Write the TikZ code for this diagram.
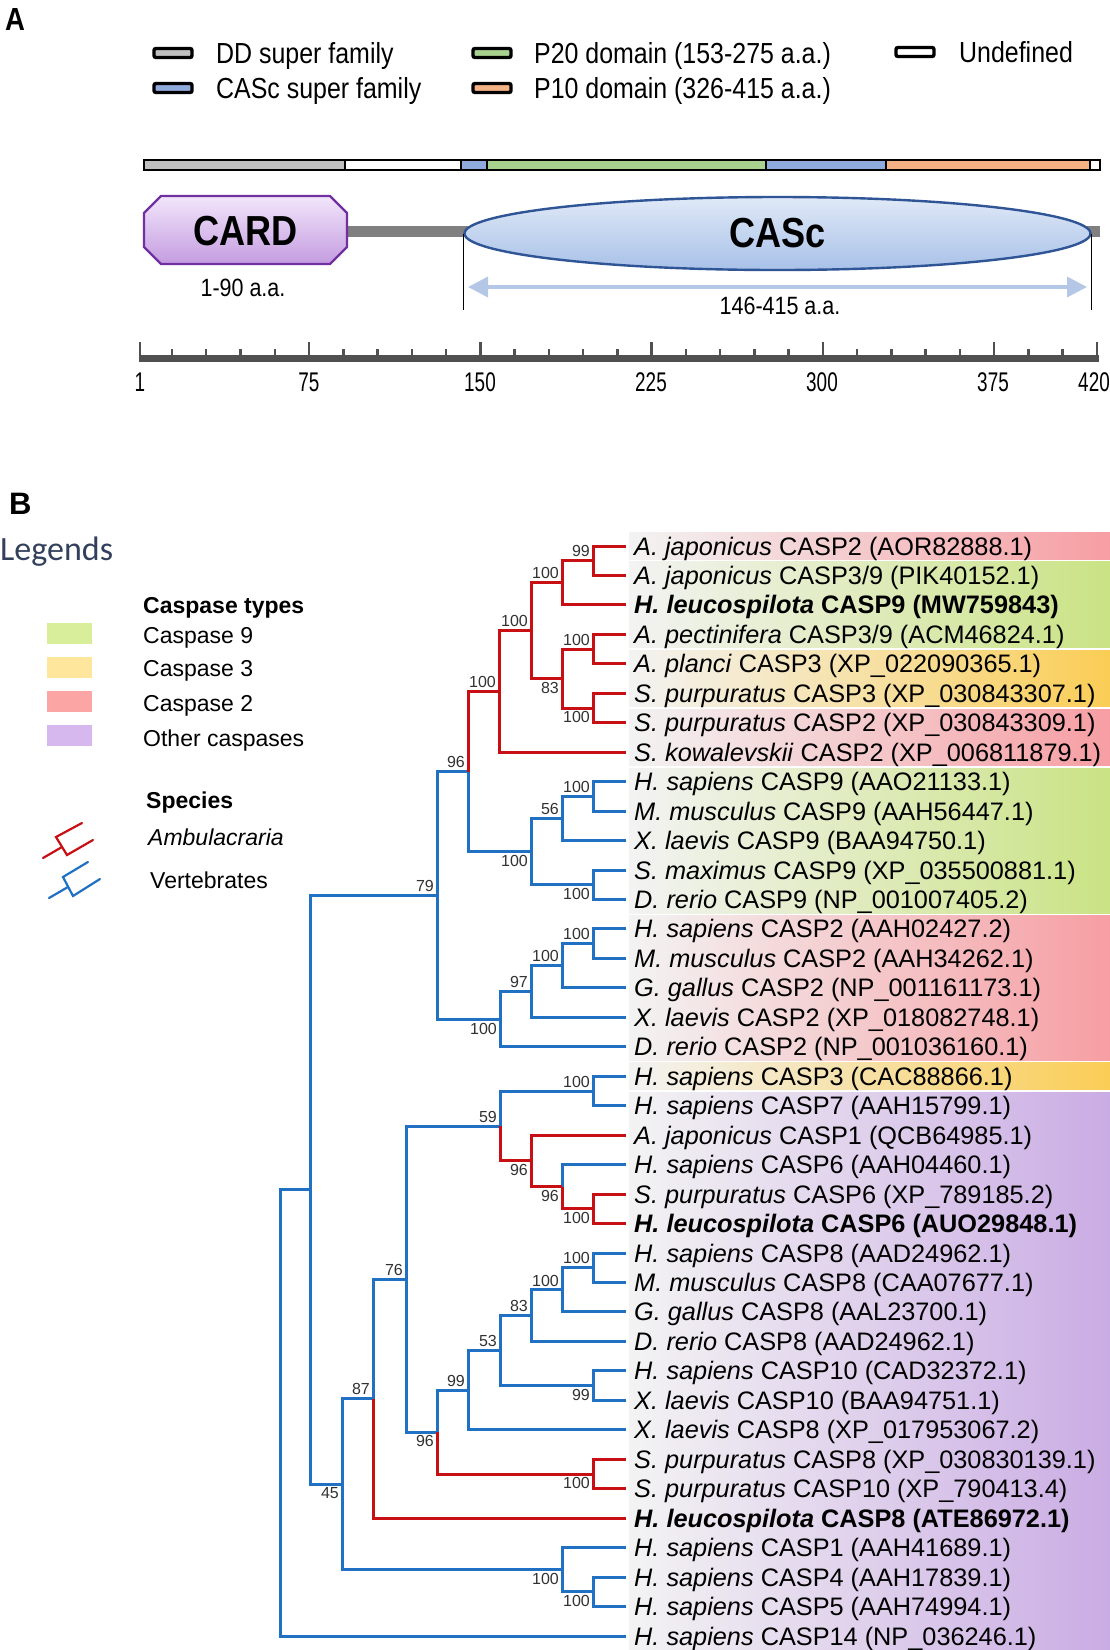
\documentclass[tikz,border=0pt]{standalone}
\usepackage{fontspec}
\setmainfont{Liberation Sans}
\newfontfamily\narrowA[FakeStretch=0.86]{Liberation Sans}
\newfontfamily\narrowT[FakeStretch=0.7]{Liberation Sans}
\newfontfamily\legfont{Carlito}
\usetikzlibrary{arrows.meta,shapes.geometric}
\definecolor{treered}{RGB}{200,15,20}
\definecolor{treeblue}{RGB}{32,112,196}
\definecolor{ddgray}{RGB}{191,191,191}
\definecolor{cascblue}{RGB}{143,170,220}
\definecolor{p20green}{RGB}{169,209,142}
\definecolor{p10orange}{RGB}{244,177,131}
\definecolor{backbone}{RGB}{128,128,128}
\definecolor{cardtop}{RGB}{242,230,251}
\definecolor{cardbot}{RGB}{196,156,224}
\definecolor{cardborder}{RGB}{112,48,160}
\definecolor{casctop}{RGB}{224,233,247}
\definecolor{cascbot}{RGB}{168,193,232}
\definecolor{cascborder}{RGB}{47,85,151}
\definecolor{arrowblue}{RGB}{180,199,231}
\definecolor{rulergray}{RGB}{80,80,80}
\definecolor{cnine}{RGB}{216,238,155}
\definecolor{cthree}{RGB}{254,231,156}
\definecolor{ctwo}{RGB}{252,165,165}
\definecolor{cother}{RGB}{214,184,238}
\definecolor{pinkS}{RGB}{246,158,163}
\definecolor{greenS}{RGB}{202,227,132}
\definecolor{yellowS}{RGB}{250,205,85}
\definecolor{purpleS}{RGB}{202,172,228}
\definecolor{stripL}{RGB}{243,243,243}
\definecolor{legendnavy}{RGB}{50,64,92}
\definecolor{bsgray}{RGB}{50,50,50}
\newcommand\leaffont{\fontsize{25.3}{30}\selectfont}
\newcommand\bsfont{\fontsize{16}{18}\selectfont}
\newcommand\legAfont{\narrowA\fontsize{29}{33}\selectfont}
\newcommand\legBfont{\fontsize{23}{27}\selectfont}
\newcommand\panelfont{\fontsize{32}{34}\selectfont}
\begin{document}
\begin{tikzpicture}[x=1pt,y=-1pt,
  rb/.style={draw=treered, line width=3},
  bb/.style={draw=treeblue, line width=3},
  leaf/.style={anchor=west, inner xsep=5pt, inner ysep=0pt, text height=18pt, text depth=0pt, font=\leaffont},
  bsa/.style={anchor=south east, inner sep=0.5pt, xshift=-2.5pt, yshift=3pt, font=\bsfont, text=bsgray},
  bsb/.style={anchor=north east, inner sep=0.5pt, xshift=-2.5pt, yshift=-3pt, font=\bsfont, text=bsgray},
  lgbox/.style={draw=black, line width=3.4, rounded corners=2, minimum width=38pt, minimum height=9pt, inner sep=0pt},
  lgtext/.style={anchor=west, inner sep=0pt, text height=20pt, text depth=0pt, font=\legAfont},
  cbox/.style={minimum width=45pt, minimum height=21pt, inner sep=0pt},
  lgB/.style={anchor=west, inner sep=0pt, text height=17pt, text depth=0pt, font=\legBfont},
  ticklab/.style={inner sep=0pt, text height=19pt, text depth=0pt, font=\narrowT\fontsize{27}{30}\selectfont}
]
\useasboundingbox (0,0) rectangle (1110,1650);
\fill[white] (0,0) rectangle (1110,1650);

% ---------------- Panel A ----------------
\node[anchor=west, inner sep=0pt, text height=23pt, text depth=0pt, font=\narrowA\bfseries\panelfont] (labA) at (5,19) {A};

\node[lgbox, fill=ddgray] (k1) at (173,53) {};
\node[lgtext] (t1) at (216,53) {DD super family};
\node[lgbox, fill=cascblue] (k2) at (173,88) {};
\node[lgtext] (t2) at (216,88) {CASc super family};
\node[lgbox, fill=p20green] (k3) at (492,53) {};
\node[lgtext] (t3) at (534,53) {P20 domain (153-275 a.a.)};
\node[lgbox, fill=p10orange] (k4) at (492,88) {};
\node[lgtext] (t4) at (534,88) {P10 domain (326-415 a.a.)};
\node[lgbox, fill=white] (k5) at (915,52) {};
\node[lgtext] (t5) at (959,52) {Undefined};

% protein bar
\fill[ddgray] (144,160) rectangle (345,170);
\fill[white] (345,160) rectangle (461,170);
\fill[cascblue] (461,160) rectangle (487,170);
\fill[p20green] (487,160) rectangle (766,170);
\fill[cascblue] (766,160) rectangle (886,170);
\fill[p10orange] (886,160) rectangle (1090,170);
\fill[white] (1090,160) rectangle (1100,170);
\foreach \xx in {345,461,487,766,886,1090} \draw[line width=2] (\xx,160) -- (\xx,170);
\draw[line width=2.6] (144,160) rectangle (1100,170);

% backbone
\draw[draw=backbone, line width=11] (347,231) -- (1100,231);

% CARD
\draw[line width=2.2, draw=cardborder, top color=cardtop, bottom color=cardbot]
  (161,196) -- (330,196) -- (347,213) -- (347,247) -- (330,264) -- (161,264) -- (144,247) -- (144,213) -- cycle;
\node[font=\narrowA\bfseries\fontsize{42}{46}\selectfont, inner sep=0pt] (card) at (245.5,231) {CARD};

% CASc
\node[ellipse, draw=cascborder, line width=2.4, top color=casctop, bottom color=cascbot,
  minimum width=626pt, minimum height=73pt, inner sep=0pt,
  font=\narrowA\bfseries\fontsize{42}{46}\selectfont] (casc) at (777.5,233.5) {CASc};
\draw[line width=1.3] (casc.west) -- ++(0,76);
\draw[line width=1.3] (casc.east) -- ++(0,76);
\coordinate (aL) at (468,287);
\coordinate (aR) at (1087,287);
\draw[draw=arrowblue, line width=3.5, {Triangle[length=20pt,width=20pt]}-{Triangle[length=20pt,width=20pt]}] (aL) -- (aR);
\node[font=\narrowA\fontsize{25}{28}\selectfont, inner sep=0pt] (l190) at (243,288) {1-90 a.a.};
\node[font=\narrowA\fontsize{25}{28}\selectfont, inner sep=0pt] (l146) at (780,306) {146-415 a.a.};

% ruler
\fill[rulergray] (139,354.5) rectangle (1099,361.5);
\foreach \a in {15,30,45,60,90,105,120,135,165,180,195,210,240,255,270,285,315,330,345,360,390,405}
  \draw[draw=rulergray, line width=2.5] ({140+(\a-1)*2.284},355) -- ++(0,-6);
\foreach \a in {1,75,150,225,300,375,420}
  \draw[draw=rulergray, line width=2.5] ({140+(\a-1)*2.284},355) -- ++(0,-13);
\node[ticklab] (r1) at (140,382) {1};
\node[ticklab] (r75) at (309,382) {75};
\node[ticklab] (r150) at (480,382) {150};
\node[ticklab] (r225) at (651,382) {225};
\node[ticklab] (r300) at (822,382) {300};
\node[ticklab] (r375) at (993,382) {375};
\node[ticklab] (r420) at (1094,382) {420};

% ---------------- Panel B ----------------
\node[anchor=west, inner sep=0pt, text height=23pt, text depth=0pt, font=\bfseries\fontsize{31}{33}\selectfont] (labB) at (9,503) {B};
\node[font=\legfont\fontsize{34}{38}\selectfont, text=legendnavy, anchor=west, inner sep=0pt] (legends) at (0,552) {Legends};

\node[lgB, font=\legBfont\bfseries] (ctypes) at (143,605) {Caspase types};
\node[cbox, fill=cnine] (b9) at (69,633) {};
\node[cbox, fill=cthree] (b3) at (69,667) {};
\node[cbox, fill=ctwo] (b2) at (69,701) {};
\node[cbox, fill=cother] (bo) at (69,735) {};
\node[lgB] (tc9) at (143,635) {Caspase 9};
\node[lgB] (tc3) at (143,668) {Caspase 3};
\node[lgB] (tc2) at (143,703) {Caspase 2};
\node[lgB] (tco) at (143,738) {Other caspases};
\node[lgB, font=\legBfont\bfseries] (spec) at (146,800) {Species};
\node[lgB, font=\legBfont\itshape] (amb) at (148,837) {Ambulacraria};
\node[lgB] (vert) at (150,880) {Vertebrates};

% legend icons
\draw[draw=treered, line width=2.2, line cap=round] (43,858) -- (62,847);
\draw[draw=treered, line width=2.2, line cap=round] (82,823) -- (56,837) -- (67,855) -- (93,840);
\draw[draw=treeblue, line width=2.2, line cap=round] (49,898) -- (68,887);
\draw[draw=treeblue, line width=2.2, line cap=round] (88,862) -- (63,877) -- (73,896) -- (100,879);

% strips
\shade[left color=stripL, right color=pinkS] (629,532.5) rectangle (1110,559.5);
\shade[left color=stripL, right color=greenS] (629,561.9) rectangle (1110,647.9);
\shade[left color=stripL, right color=yellowS] (629,650.3) rectangle (1110,706.8);
\shade[left color=stripL, right color=pinkS] (629,709.2) rectangle (1110,765.75);
\shade[left color=stripL, right color=greenS] (629,768.2) rectangle (1110,913.05);
\shade[left color=stripL, right color=pinkS] (629,915.45) rectangle (1110,1060.35);
\shade[left color=stripL, right color=yellowS] (629,1062.75) rectangle (1110,1089.8);
\shade[left color=stripL, right color=purpleS] (629,1092.2) rectangle (1110,1650);

% leaves
\node[leaf] (L1) at (629,546.00) {\textit{A. japonicus} CASP2 (AOR82888.1)};
\node[leaf] (L2) at (629,575.46) {\textit{A. japonicus} CASP3/9 (PIK40152.1)};
\node[leaf] (L3) at (629,604.92) {\textbf{\textit{H. leucospilota} CASP9 (MW759843)}};
\node[leaf] (L4) at (629,634.38) {\textit{A. pectinifera} CASP3/9 (ACM46824.1)};
\node[leaf] (L5) at (629,663.84) {\textit{A. planci} CASP3 (XP\_022090365.1)};
\node[leaf] (L6) at (629,693.30) {\textit{S. purpuratus} CASP3 (XP\_030843307.1)};
\node[leaf] (L7) at (629,722.76) {\textit{S. purpuratus} CASP2 (XP\_030843309.1)};
\node[leaf] (L8) at (629,752.22) {\textit{S. kowalevskii} CASP2 (XP\_006811879.1)};
\node[leaf] (L9) at (629,781.68) {\textit{H. sapiens} CASP9 (AAO21133.1)};
\node[leaf] (L10) at (629,811.14) {\textit{M. musculus} CASP9 (AAH56447.1)};
\node[leaf] (L11) at (629,840.60) {\textit{X. laevis} CASP9 (BAA94750.1)};
\node[leaf] (L12) at (629,870.06) {\textit{S. maximus} CASP9 (XP\_035500881.1)};
\node[leaf] (L13) at (629,899.52) {\textit{D. rerio} CASP9 (NP\_001007405.2)};
\node[leaf] (L14) at (629,928.98) {\textit{H. sapiens} CASP2 (AAH02427.2)};
\node[leaf] (L15) at (629,958.44) {\textit{M. musculus} CASP2 (AAH34262.1)};
\node[leaf] (L16) at (629,987.90) {\textit{G. gallus} CASP2 (NP\_001161173.1)};
\node[leaf] (L17) at (629,1017.36) {\textit{X. laevis} CASP2 (XP\_018082748.1)};
\node[leaf] (L18) at (629,1046.82) {\textit{D. rerio} CASP2 (NP\_001036160.1)};
\node[leaf] (L19) at (629,1076.28) {\textit{H. sapiens} CASP3 (CAC88866.1)};
\node[leaf] (L20) at (629,1105.74) {\textit{H. sapiens} CASP7 (AAH15799.1)};
\node[leaf] (L21) at (629,1135.20) {\textit{A. japonicus} CASP1 (QCB64985.1)};
\node[leaf] (L22) at (629,1164.66) {\textit{H. sapiens} CASP6 (AAH04460.1)};
\node[leaf] (L23) at (629,1194.12) {\textit{S. purpuratus} CASP6 (XP\_789185.2)};
\node[leaf] (L24) at (629,1223.58) {\textbf{\textit{H. leucospilota} CASP6 (AUO29848.1)}};
\node[leaf] (L25) at (629,1253.04) {\textit{H. sapiens} CASP8 (AAD24962.1)};
\node[leaf] (L26) at (629,1282.50) {\textit{M. musculus} CASP8 (CAA07677.1)};
\node[leaf] (L27) at (629,1311.96) {\textit{G. gallus} CASP8 (AAL23700.1)};
\node[leaf] (L28) at (629,1341.42) {\textit{D. rerio} CASP8 (AAD24962.1)};
\node[leaf] (L29) at (629,1370.88) {\textit{H. sapiens} CASP10 (CAD32372.1)};
\node[leaf] (L30) at (629,1400.34) {\textit{X. laevis} CASP10 (BAA94751.1)};
\node[leaf] (L31) at (629,1429.80) {\textit{X. laevis} CASP8 (XP\_017953067.2)};
\node[leaf] (L32) at (629,1459.26) {\textit{S. purpuratus} CASP8 (XP\_030830139.1)};
\node[leaf] (L33) at (629,1488.72) {\textit{S. purpuratus} CASP10 (XP\_790413.4)};
\node[leaf] (L34) at (629,1518.18) {\textbf{\textit{H. leucospilota} CASP8 (ATE86972.1)}};
\node[leaf] (L35) at (629,1547.64) {\textit{H. sapiens} CASP1 (AAH41689.1)};
\node[leaf] (L36) at (629,1577.10) {\textit{H. sapiens} CASP4 (AAH17839.1)};
\node[leaf] (L37) at (629,1606.56) {\textit{H. sapiens} CASP5 (AAH74994.1)};
\node[leaf] (L38) at (629,1636.02) {\textit{H. sapiens} CASP14 (NP\_036246.1)};

% tips
\foreach \k in {1,...,38} \coordinate (T\k) at ([xshift=-3pt]L\k.west);

% internal nodes
\coordinate (n99) at (593,560.73);
\coordinate (n100a) at (562,582.83);
\coordinate (n100c) at (593,649.11);
\coordinate (n100d) at (593,708.03);
\coordinate (n83t) at (562,678.57);
\coordinate (n100b) at (531,630.70);
\coordinate (n100e) at (499,691.46);
\coordinate (n100f) at (593,796.41);
\coordinate (n56) at (562,818.51);
\coordinate (n100g) at (593,884.79);
\coordinate (n100h) at (531,851.65);
\coordinate (n96) at (468,771.56);
\coordinate (n100i) at (593,943.71);
\coordinate (n100j) at (562,965.81);
\coordinate (n97) at (531,991.58);
\coordinate (n100k) at (500,1019.20);
\coordinate (n79) at (437,895.38);
\coordinate (n100l) at (593,1091.01);
\coordinate (n100m) at (593,1208.85);
\coordinate (n96a) at (562,1186.76);
\coordinate (n96b) at (531,1160.98);
\coordinate (n59) at (500,1126.00);
\coordinate (n100n) at (593,1267.77);
\coordinate (n100o) at (562,1289.87);
\coordinate (n83) at (531,1315.64);
\coordinate (n99a) at (593,1385.61);
\coordinate (n53) at (500,1350.63);
\coordinate (n99b) at (468,1390.21);
\coordinate (n100p) at (593,1473.99);
\coordinate (n96c) at (437,1432.10);
\coordinate (n76) at (406,1279.05);
\coordinate (n87) at (373,1398.62);
\coordinate (n100q) at (593,1591.83);
\coordinate (n100r) at (562,1569.74);
\coordinate (n45) at (342,1484.18);
\coordinate (nX) at (310,1189.78);
\coordinate (root) at (280,1412.90);

% blue branches
\draw[bb] (n96) |- (n100h);
\draw[bb] (n100h) |- (n56);
\draw[bb] (n100h) |- (n100g);
\draw[bb] (n56) |- (n100f);
\draw[bb] (n56) |- (T11);
\draw[bb] (n100f) |- (T9);
\draw[bb] (n100f) |- (T10);
\draw[bb] (n100g) |- (T12);
\draw[bb] (n100g) |- (T13);
\draw[bb] (n79) |- (n96);
\draw[bb] (n79) |- (n100k);
\draw[bb] (n100k) |- (n97);
\draw[bb] (n100k) |- (T18);
\draw[bb] (n97) |- (n100j);
\draw[bb] (n97) |- (T17);
\draw[bb] (n100j) |- (n100i);
\draw[bb] (n100j) |- (T16);
\draw[bb] (n100i) |- (T14);
\draw[bb] (n100i) |- (T15);
\draw[bb] (nX) |- (n79);
\draw[bb] (nX) |- (n45);
\draw[bb] (root) |- (nX);
\draw[bb] (root) |- (T38);
\draw[bb] (n45) |- (n87);
\draw[bb] (n45) |- (n100r);
\draw[bb] (n100r) |- (T35);
\draw[bb] (n100r) |- (n100q);
\draw[bb] (n100q) |- (T36);
\draw[bb] (n100q) |- (T37);
\draw[bb] (n87) |- (n76);
\draw[bb] (n76) |- (n59);
\draw[bb] (n76) |- (n96c);
\draw[bb] (n59) |- (n100l);
\draw[bb] (n100l) |- (T19);
\draw[bb] (n100l) |- (T20);
\draw[bb] (n96a) |- (T22);
\draw[bb] (n96c) |- (n99b);
\draw[bb] (n99b) |- (n53);
\draw[bb] (n99b) |- (T31);
\draw[bb] (n53) |- (n83);
\draw[bb] (n53) |- (n99a);
\draw[bb] (n83) |- (n100o);
\draw[bb] (n83) |- (T28);
\draw[bb] (n100o) |- (n100n);
\draw[bb] (n100o) |- (T27);
\draw[bb] (n100n) |- (T25);
\draw[bb] (n100n) |- (T26);
\draw[bb] (n99a) |- (T29);
\draw[bb] (n99a) |- (T30);

% red branches
\draw[rb] (n96) |- (n100e);
\draw[rb] (n100e) |- (n100b);
\draw[rb] (n100e) |- (T8);
\draw[rb] (n100b) |- (n100a);
\draw[rb] (n100b) |- (n83t);
\draw[rb] (n100a) |- (n99);
\draw[rb] (n100a) |- (T3);
\draw[rb] (n99) |- (T1);
\draw[rb] (n99) |- (T2);
\draw[rb] (n83t) |- (n100c);
\draw[rb] (n83t) |- (n100d);
\draw[rb] (n100c) |- (T4);
\draw[rb] (n100c) |- (T5);
\draw[rb] (n100d) |- (T6);
\draw[rb] (n100d) |- (T7);
\draw[rb] (n59) |- (n96b);
\draw[rb] (n96b) |- (T21);
\draw[rb] (n96b) |- (n96a);
\draw[rb] (n96a) |- (n100m);
\draw[rb] (n100m) |- (T23);
\draw[rb] (n100m) |- (T24);
\draw[rb] (n96c) |- (n100p);
\draw[rb] (n100p) |- (T32);
\draw[rb] (n100p) |- (T33);
\draw[rb] (n87) |- (T34);

% bootstrap values
\node[bsa] (s1) at (n99) {99};
\node[bsa] (s2) at (n100a) {100};
\node[bsa] (s3) at (n100b) {100};
\node[bsa] (s4) at (n100c) {100};
\node[bsb] (s5) at (n83t) {83};
\node[bsb] (s6) at (n100d) {100};
\node[bsa] (s7) at (n100e) {100};
\node[bsa] (s8) at (n96) {96};
\node[bsa] (s9) at (n100f) {100};
\node[bsa] (s10) at (n56) {56};
\node[bsb] (s11) at (n100h) {100};
\node[bsb] (s12) at (n100g) {100};
\node[bsa] (s13) at (n79) {79};
\node[bsa] (s14) at (n100i) {100};
\node[bsa] (s15) at (n100j) {100};
\node[bsa] (s16) at (n97) {97};
\node[bsb] (s17) at (n100k) {100};
\node[bsa] (s18) at (n100l) {100};
\node[bsa] (s19) at (n59) {59};
\node[bsb] (s20) at (n96b) {96};
\node[bsb] (s21) at (n96a) {96};
\node[bsb] (s22) at (n100m) {100};
\node[bsa] (s23) at (n100n) {100};
\node[bsa] (s24) at (n100o) {100};
\node[bsa] (s25) at (n83) {83};
\node[bsa] (s26) at (n53) {53};
\node[bsb] (s27) at (n99a) {99};
\node[bsa] (s28) at (n99b) {99};
\node[bsb] (s29) at (n96c) {96};
\node[bsb] (s30) at (n100p) {100};
\node[bsa] (s31) at (n76) {76};
\node[bsa] (s32) at (n87) {87};
\node[bsb] (s33) at (n45) {45};
\node[bsb] (s34) at (n100r) {100};
\node[bsb] (s35) at (n100q) {100};
\end{tikzpicture}
\end{document}
